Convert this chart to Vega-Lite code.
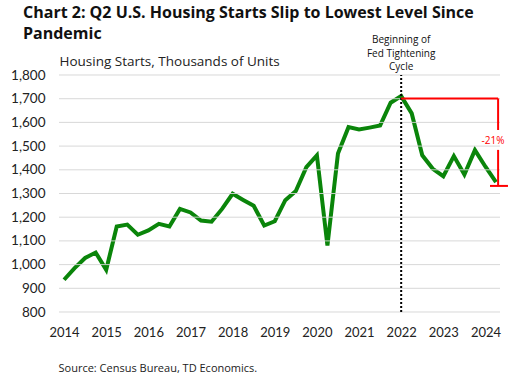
{
  "$schema": "https://vega.github.io/schema/vega-lite/v6.json",
  "width": 441,
  "height": 237,
  "autosize": {"type": "none"},
  "padding": {"left": 59, "top": 75, "right": 16, "bottom": 73},
  "background": "white",
  "title": {
    "text": ["Chart 2: Q2 U.S. Housing Starts Slip to Lowest Level Since", "Pandemic"],
    "anchor": "start",
    "frame": "group",
    "dx": -36,
    "font": "Open Sans",
    "fontSize": 16,
    "fontWeight": "bold",
    "lineHeight": 21,
    "color": "#111111",
    "offset": -7
  },
  "config": {
    "view": {"stroke": null},
    "font": "Lato"
  },
  "datasets": {
    "gridLines": [
      {"t": 2013.88, "t2": 2024.345, "v": 800, "v2": 800},
      {"t": 2013.88, "t2": 2024.345, "v": 900, "v2": 900},
      {"t": 2013.88, "t2": 2024.345, "v": 1000, "v2": 1000},
      {"t": 2013.88, "t2": 2024.345, "v": 1100, "v2": 1100},
      {"t": 2013.88, "t2": 2024.345, "v": 1200, "v2": 1200},
      {"t": 2013.88, "t2": 2024.345, "v": 1300, "v2": 1300},
      {"t": 2013.88, "t2": 2024.345, "v": 1400, "v2": 1400},
      {"t": 2013.88, "t2": 2024.345, "v": 1500, "v2": 1500},
      {"t": 2013.88, "t2": 2024.345, "v": 1600, "v2": 1600},
      {"t": 2013.88, "t2": 2024.345, "v": 1700, "v2": 1700},
      {"t": 2013.88, "t2": 2024.345, "v": 1800, "v2": 1800}
    ],
    "starts": [
      {"t": 2014.00, "v": 936}, {"t": 2014.25, "v": 985}, {"t": 2014.50, "v": 1028}, {"t": 2014.75, "v": 1051},
      {"t": 2015.00, "v": 978}, {"t": 2015.25, "v": 1161}, {"t": 2015.50, "v": 1169}, {"t": 2015.75, "v": 1126},
      {"t": 2016.00, "v": 1144}, {"t": 2016.25, "v": 1172}, {"t": 2016.50, "v": 1161}, {"t": 2016.75, "v": 1235},
      {"t": 2017.00, "v": 1220}, {"t": 2017.25, "v": 1186}, {"t": 2017.50, "v": 1181}, {"t": 2017.75, "v": 1235},
      {"t": 2018.00, "v": 1299}, {"t": 2018.25, "v": 1273}, {"t": 2018.50, "v": 1248}, {"t": 2018.75, "v": 1165},
      {"t": 2019.00, "v": 1183}, {"t": 2019.25, "v": 1272}, {"t": 2019.50, "v": 1310}, {"t": 2019.75, "v": 1411},
      {"t": 2020.00, "v": 1461}, {"t": 2020.25, "v": 1080}, {"t": 2020.50, "v": 1469}, {"t": 2020.75, "v": 1580},
      {"t": 2021.00, "v": 1570}, {"t": 2021.25, "v": 1578}, {"t": 2021.50, "v": 1587}, {"t": 2021.75, "v": 1683},
      {"t": 2022.00, "v": 1711}, {"t": 2022.25, "v": 1638}, {"t": 2022.50, "v": 1461}, {"t": 2022.75, "v": 1404},
      {"t": 2023.00, "v": 1373}, {"t": 2023.25, "v": 1458}, {"t": 2023.50, "v": 1380}, {"t": 2023.75, "v": 1483},
      {"t": 2024.00, "v": 1413}, {"t": 2024.25, "v": 1348}
    ],
    "redRules": [
      {"t": 2022.0, "t2": 2024.30, "v": 1701, "v2": 1701},
      {"t": 2024.30, "t2": 2024.30, "v": 1701, "v2": 1568},
      {"t": 2024.30, "t2": 2024.30, "v": 1484, "v2": 1332},
      {"t": 2024.107, "t2": 2024.534, "v": 1332, "v2": 1332}
    ],
    "redLabel": [{"t": 2024.18, "v": 1521, "label": "-21%"}],
    "fedRule": [{"t": 2022.0, "v": 800, "v2": 1800}],
    "fedLabel": [{"t": 2022.0, "v": 1800, "label": ["Beginning of", "Fed Tightening", "Cycle"]}]
  },
  "encoding": {
    "x": {
      "field": "t", "type": "quantitative",
      "scale": {"domain": [2013.88, 2024.345], "nice": false, "zero": false},
      "axis": {
        "values": [2014, 2015, 2016, 2017, 2018, 2019, 2020, 2021, 2022, 2023, 2024],
        "format": "d", "grid": false, "ticks": false, "domain": false,
        "labelFont": "Lato", "labelFontSize": 13, "labelColor": "#222222", "labelPadding": 14,
        "title": "Source: Census Bureau, TD Economics.",
        "titleFont": "Open Sans", "titleFontSize": 11, "titleFontWeight": "normal", "titleColor": "#222222",
        "titleAnchor": "start", "titleAlign": "left", "titleBaseline": "alphabetic",
        "titleX": -1, "titleY": 59
      }
    },
    "y": {
      "field": "v", "type": "quantitative",
      "scale": {"domain": [800, 1800], "nice": false, "zero": false},
      "axis": {
        "values": [800, 900, 1000, 1100, 1200, 1300, 1400, 1500, 1600, 1700, 1800],
        "format": ",d", "grid": false, "labelOverlap": false,
        "ticks": false, "domain": false,
        "labelFont": "Lato", "labelFontSize": 13.5, "labelColor": "#222222", "labelPadding": 14,
        "title": "Housing Starts, Thousands of Units",
        "titleFont": "Open Sans", "titleFontSize": 13.5, "titleFontWeight": "normal", "titleColor": "#222222",
        "titleAngle": 0, "titleAlign": "left", "titleBaseline": "alphabetic",
        "titleX": 0, "titleY": -10
      }
    }
  },
  "layer": [
    {
      "data": {"name": "starts"},
      "mark": {"type": "line", "color": "#0a850a", "strokeWidth": 4, "strokeJoin": "miter"}
    },
    {
      "data": {"name": "gridLines"},
      "mark": {"type": "rule", "color": "#d4d4d4", "strokeWidth": 1, "opacity": 0.9},
      "encoding": {
        "x2": {"field": "t2"},
        "y2": {"field": "v2"}
      }
    },
    {
      "data": {"name": "fedRule"},
      "mark": {"type": "rule", "color": "#000000", "strokeWidth": 2, "strokeDash": [2, 2]},
      "encoding": {
        "y2": {"field": "v2"}
      }
    },
    {
      "data": {"name": "fedLabel"},
      "mark": {"type": "text", "font": "Open Sans", "fontSize": 10, "lineHeight": 13.5, "baseline": "alphabetic", "align": "center", "dy": -32, "color": "#111111"},
      "encoding": {
        "text": {"field": "label"}
      }
    },
    {
      "data": {"name": "redRules"},
      "mark": {"type": "rule", "color": "#ff0000", "strokeWidth": 2},
      "encoding": {
        "x2": {"field": "t2"},
        "y2": {"field": "v2"}
      }
    },
    {
      "data": {"name": "redLabel"},
      "mark": {"type": "text", "font": "Open Sans", "fontSize": 10, "align": "center", "baseline": "middle", "color": "#ff0000"},
      "encoding": {
        "text": {"field": "label"}
      }
    }
  ]
}
